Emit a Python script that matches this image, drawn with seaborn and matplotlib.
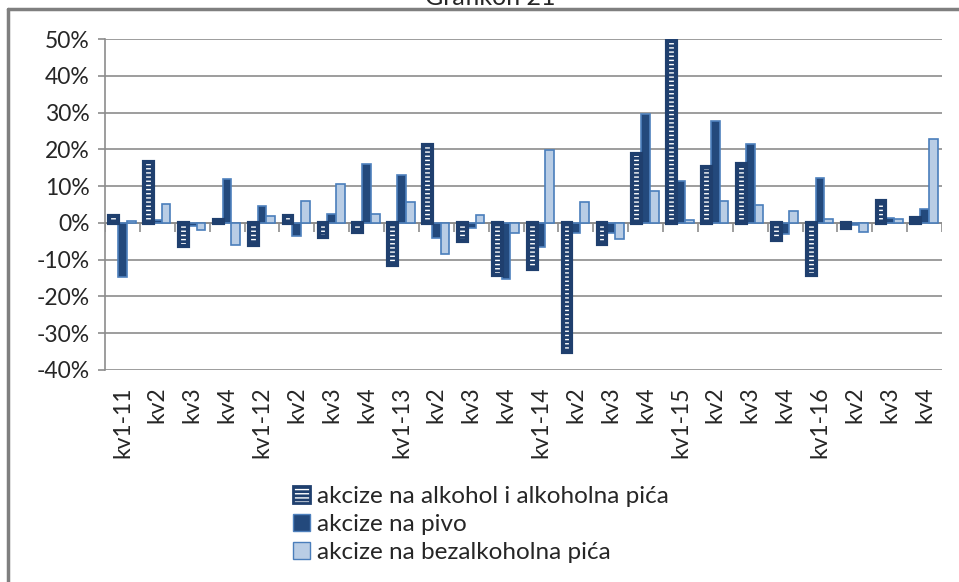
import matplotlib
matplotlib.use('Agg')
import matplotlib.pyplot as plt
import pandas as pd
import seaborn as sns
from matplotlib.legend_handler import HandlerTuple
from matplotlib.lines import Line2D
from matplotlib.patches import Patch, Rectangle

LABELS = ['kv1-11', 'kv2', 'kv3', 'kv4', 'kv1-12', 'kv2', 'kv3', 'kv4',
          'kv1-13', 'kv2', 'kv3', 'kv4', 'kv1-14', 'kv2', 'kv3', 'kv4',
          'kv1-15', 'kv2', 'kv3', 'kv4', 'kv1-16', 'kv2', 'kv3', 'kv4']
SERIES = ['akcize na alkohol i alkoholna pića', 'akcize na pivo',
          'akcize na bezalkoholna pića']
ALKOHOL = [1.9, 16.5, -6.3, 0.9, -5.9, 1.9, -3.8, -2.6, -11.4, 21.1, -5.0, -14.1,
           -12.5, -35.1, -5.7, 18.6, 50.0, 15.2, 16.1, -4.7, -14.1, -1.3, 6.0, 1.2]
PIVO = [-14.7, 0.7, -0.9, 11.9, 4.6, -3.5, 2.5, 16.1, 13.0, -4.2, -1.3, -15.3,
        -6.6, -2.7, -2.7, 29.7, 11.5, 27.6, 21.5, -3.1, 12.3, -0.5, 1.4, 3.8]
BEZALK = [0.4, 5.0, -1.8, -6.1, 1.8, 6.0, 10.5, 2.5, 5.6, -8.5, 2.2, -2.8,
          19.8, 5.6, -4.5, 8.7, 0.7, 5.9, 4.9, 3.2, 1.1, -2.5, 1.1, 22.8]

FILL = ['#1F3F6E', '#23497C', '#B9CDE5']
EDGE = ['#1F3F6E', '#4F81BD', '#4A7EBB']
GRID = '#8C8C8C'

sns.set_style('white')
plt.rcParams['font.family'] = ['Lato', 'DejaVu Sans']
plt.rcParams['hatch.linewidth'] = 1.0

rows = []
for name, vals in zip(SERIES, [ALKOHOL, PIVO, BEZALK]):
    for i, v in enumerate(vals):
        rows.append({'idx': i, 'serija': name, 'vrijednost': v})
df = pd.DataFrame(rows)

fig = plt.figure(figsize=(9.59, 5.82), dpi=100)
ax = fig.add_axes([105 / 959, 1 - 370 / 582, (942 - 105) / 959, (370 - 39) / 582])

sns.barplot(data=df, x='idx', y='vrijednost', hue='serija', hue_order=SERIES,
            palette=FILL, saturation=1, width=0.75, legend=False, ax=ax, zorder=3)

# alcohol bars: white stripes plus a dark outline on top
for p in ax.containers[0]:
    p.set_hatch('----')
    p.set_edgecolor('white')
    p.set_linewidth(0)
    ax.add_patch(Rectangle(p.get_xy(), p.get_width(), p.get_height(), fill=False,
                           edgecolor=EDGE[0], linewidth=3, zorder=4))
for k in (1, 2):
    for p in ax.containers[k]:
        p.set_edgecolor(EDGE[k])
        p.set_linewidth(1.2)

ax.set_ylim(-40, 50)
ax.set_xlim(-0.5, len(LABELS) - 0.5)
ax.set_yticks(range(-40, 51, 10))
ax.set_yticklabels([f'{v}%' for v in range(-40, 51, 10)], fontsize=16.5)
ax.yaxis.grid(True, color=GRID, linewidth=1.2, zorder=0)
ax.set_axisbelow(True)
ax.tick_params(axis='y', length=5, color=GRID, width=1.2, pad=6, left=True)
ax.set_xticks(range(len(LABELS)))
ax.set_xticklabels(LABELS, rotation=90, fontsize=16.5)
ax.tick_params(axis='x', length=0, pad=12)
ax.set_xlabel('')
ax.set_ylabel('')
for s in ['top', 'right', 'bottom']:
    ax.spines[s].set_visible(False)
ax.spines['left'].set_color(GRID)
ax.spines['left'].set_linewidth(1.2)

# category axis crossing at zero, with tick marks between groups
ax.axhline(0, color=GRID, linewidth=1.2, zorder=2)
bounds = [i + 0.5 for i in range(-1, len(LABELS))]
ax.vlines(bounds, -2.5, 0, color=GRID, linewidth=1.2, zorder=2)

alk_handle = (Patch(facecolor=FILL[0], edgecolor='white', hatch='----', linewidth=0),
              Patch(fill=False, edgecolor=EDGE[0], linewidth=2))
handles = [alk_handle,
           Patch(facecolor=FILL[1], edgecolor=EDGE[1]),
           Patch(facecolor=FILL[2], edgecolor=EDGE[2])]
fig.legend(handles, SERIES, loc='upper left', bbox_to_anchor=(283 / 959, 1 - 476 / 582),
           frameon=False, fontsize=17.5, handlelength=0.7, handleheight=0.7,
           handletextpad=0.3, labelspacing=0.3, borderaxespad=0,
           handler_map={tuple: HandlerTuple(ndivide=1, pad=0)})

# outer chart frame (only top and left visible) and cut-off title
fig.add_artist(Line2D([8 / 959, 8 / 959], [0, 1 - 9 / 582], transform=fig.transFigure,
                      color='#7F7F7F', linewidth=2.5))
fig.add_artist(Line2D([8 / 959, 1], [1 - 9 / 582, 1 - 9 / 582], transform=fig.transFigure,
                      color='#7F7F7F', linewidth=2.5))
fig.text(490 / 959, 1 - 5 / 582, 'Grafikon 21', ha='center', va='baseline', fontsize=18)

fig.savefig('out.png', dpi=100, facecolor='white')
